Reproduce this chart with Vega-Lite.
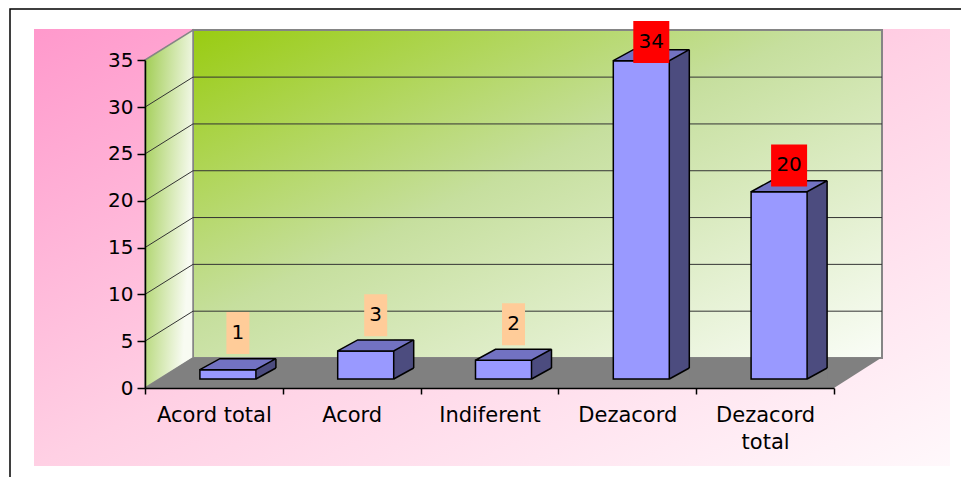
{
  "$schema": "https://vega.github.io/schema/vega-lite/v6.json",
  "width": 951,
  "height": 468,
  "autosize": {"type": "none"},
  "padding": {"left": 10, "top": 9, "right": 0, "bottom": 0},
  "background": "white",
  "config": {"view": {"stroke": null}, "font": "DejaVu Sans"},
  "datasets": {
    "survey": [
      {"raspuns": "Acord total", "valoare": 1},
      {"raspuns": "Acord", "valoare": 3},
      {"raspuns": "Indiferent", "valoare": 2},
      {"raspuns": "Dezacord", "valoare": 34},
      {"raspuns": "Dezacord total", "valoare": 20}
    ],
    "ticks": [{"v": 5}, {"v": 10}, {"v": 15}, {"v": 20}, {"v": 25}, {"v": 30}]
  },
  "layer": [
    {
      "data": {"values": [{}]},
      "encoding": {
        "x": {"datum": 0, "type": "quantitative", "scale": {"domain": [0, 5], "range": [135, 824], "nice": false, "zero": false}, "axis": null},
        "y": {"datum": 0, "type": "quantitative", "scale": {"domain": [0, 35], "range": [379, 51.3], "nice": false, "zero": false}, "axis": null}
      },
      "layer": [
        {"mark": {"type": "point", "shape": "M-111,-359L805,-359L805,78L-111,78Z", "size": 4, "filled": true, "opacity": 1, "fill": {"gradient": "linear", "x1": 0, "y1": 0, "x2": 1, "y2": 1, "stops": [{"offset": 0, "color": "#FF99CC"}, {"offset": 0.5, "color": "#FFD0E4"}, {"offset": 1, "color": "#FFF8FB"}]}}},
        {"mark": {"type": "point", "shape": "M-135,89L-135,-379L816,-379", "size": 4, "filled": false, "opacity": 1, "stroke": "#000000", "strokeWidth": 1.5}},
        {"mark": {"type": "point", "shape": "M48,-30L737,-30L737,-358L48,-358Z", "size": 4, "filled": true, "opacity": 1, "stroke": "#858585", "strokeWidth": 2, "fill": {"gradient": "linear", "x1": 0, "y1": 0, "x2": 1, "y2": 1, "stops": [{"offset": 0, "color": "#99CC11"}, {"offset": 0.45, "color": "#C6DF9E"}, {"offset": 1, "color": "#FAFDF7"}]}}},
        {"mark": {"type": "point", "shape": "M0,0L0,-328L48,-358L48,-30Z", "size": 4, "filled": true, "opacity": 1, "stroke": "#858585", "strokeWidth": 1.5, "fill": {"gradient": "linear", "x1": 0, "y1": 0, "x2": 1, "y2": 0.4, "stops": [{"offset": 0, "color": "#9FCC50"}, {"offset": 1, "color": "#F8FBF2"}]}}},
        {"mark": {"type": "point", "shape": "M0,0L689,0L736,-30L47,-30Z", "size": 4, "filled": true, "opacity": 1, "fill": "#808080"}}
      ]
    },
    {
      "data": {"name": "ticks"},
      "layer": [
        {
          "mark": {"type": "rule", "color": "#333333", "strokeWidth": 1, "xOffset": 48, "x2Offset": 48, "yOffset": -30},
          "encoding": {
            "x": {"datum": 0, "type": "quantitative", "scale": {"domain": [0, 5], "range": [135, 824], "nice": false, "zero": false}, "axis": null},
            "x2": {"datum": 5},
            "y": {"field": "v", "type": "quantitative", "scale": {"domain": [0, 35], "range": [379, 51.3], "nice": false, "zero": false}, "axis": null}
          }
        },
        {
          "mark": {"type": "rule", "color": "#333333", "strokeWidth": 1, "x2Offset": 48, "y2Offset": -30},
          "encoding": {
            "x": {"datum": 0, "type": "quantitative", "scale": {"domain": [0, 5], "range": [135, 824], "nice": false, "zero": false}, "axis": null},
            "x2": {"datum": 0},
            "y": {"field": "v", "type": "quantitative", "scale": {"domain": [0, 35], "range": [379, 51.3], "nice": false, "zero": false}, "axis": null},
            "y2": {"field": "v"}
          }
        }
      ]
    },
    {
      "data": {"name": "survey"},
      "encoding": {
        "x": {
          "field": "raspuns", "type": "nominal", "sort": null,
          "scale": {"domain": ["Acord total", "Acord", "Indiferent", "Dezacord", "Dezacord total"], "range": [135, 824], "paddingInner": 0, "paddingOuter": 0},
          "axis": {"orient": "bottom", "offset": -89, "title": null, "tickBand": "extent", "tickSize": 6, "tickWidth": 1.5, "tickColor": "#000000", "domainColor": "#000000", "domainWidth": 1.5, "labelPadding": 10, "labelFontSize": 21, "labelFont": "DejaVu Sans", "labelColor": "#000000", "labelAngle": 0, "labelBaseline": "top", "labelLineHeight": 27, "labelExpr": "datum.label == 'Dezacord total' ? ['Dezacord', 'total'] : datum.label", "zindex": 1}
        },
        "y": {
          "field": "valoare", "type": "quantitative",
          "scale": {"domain": [0, 35], "range": [379, 51.3], "nice": false, "zero": false},
          "axis": {"orient": "left", "offset": -135, "title": null, "grid": false, "values": [0, 5, 10, 15, 20, 25, 30, 35], "tickSize": 8, "tickWidth": 1.5, "tickColor": "#000000", "domainColor": "#000000", "domainWidth": 1.5, "labelPadding": 4, "labelFontSize": 20, "labelFont": "DejaVu Sans", "labelColor": "#000000", "zindex": 1}
        }
      },
      "layer": [
        {"mark": {"type": "bar", "width": 20, "xOffset": 52, "yOffset": -20, "y2Offset": -9, "fill": "#4C4C7F"}, "encoding": {"y2": {"datum": 0}}},
        {"mark": {"type": "bar", "width": 56, "xOffset": 14, "yOffset": -9, "y2Offset": -9, "fill": "#9999FF", "stroke": "#000000", "strokeWidth": 1.5}, "encoding": {"y2": {"datum": 0}}},
        {"mark": {"type": "point", "shape": "M0,0L56,0L76,-11L20,-11Z", "size": 4, "filled": true, "opacity": 1, "fill": "#7272C2", "stroke": "#000000", "strokeWidth": 1.5, "xOffset": -14, "yOffset": -9}},
        {"mark": {"type": "rule", "color": "#000000", "strokeWidth": 1.5, "xOffset": 62, "yOffset": -20, "y2Offset": -20}, "encoding": {"y2": {"datum": 0}}}
      ]
    },
    {
      "data": {"name": "survey"},
      "encoding": {
        "x": {"field": "raspuns", "type": "nominal", "sort": null, "scale": {"domain": ["Acord total", "Acord", "Indiferent", "Dezacord", "Dezacord total"], "range": [135, 824], "paddingInner": 0, "paddingOuter": 0}, "axis": null},
        "y": {"datum": 0, "type": "quantitative", "scale": {"domain": [0, 35], "range": [379, 51.3], "nice": false, "zero": false}, "axis": null}
      },
      "layer": [
        {"mark": {"type": "point", "shape": "M0,0L20,-11L20.6,-11L20.6,0.6L0,0.6Z", "size": 4, "filled": true, "opacity": 1, "fill": "#808080", "xOffset": 42, "yOffset": -9}},
        {"mark": {"type": "point", "shape": "M0,0L20,-11", "size": 4, "filled": false, "opacity": 1, "stroke": "#000000", "strokeWidth": 1.5, "xOffset": 42, "yOffset": -9}}
      ]
    },
    {
      "data": {"name": "survey"},
      "encoding": {
        "x": {"field": "raspuns", "type": "nominal", "sort": null, "scale": {"domain": ["Acord total", "Acord", "Indiferent", "Dezacord", "Dezacord total"], "range": [135, 824], "paddingInner": 0, "paddingOuter": 0}, "axis": null},
        "y": {"field": "valoare", "type": "quantitative", "scale": {"domain": [0, 35], "range": [332.8, 24.1], "nice": false, "zero": false}, "axis": null}
      },
      "layer": [
        {
          "mark": {"type": "point", "size": 4, "filled": true, "opacity": 1, "xOffset": 24},
          "encoding": {
            "shape": {"condition": {"test": "datum.valoare >= 10", "value": "M-18,-21L18,-21L18,21L-18,21Z"}, "value": "M-11.5,-21L11.5,-21L11.5,21L-11.5,21Z"},
            "fill": {"condition": {"test": "datum.valoare >= 10", "value": "#FF0000"}, "value": "#FFCC99"}
          }
        },
        {
          "mark": {"type": "text", "xOffset": 24, "fontSize": 20, "font": "DejaVu Sans", "color": "#000000", "align": "center", "baseline": "middle"},
          "encoding": {"text": {"field": "valoare", "type": "quantitative"}}
        }
      ]
    }
  ],
  "resolve": {"scale": {"x": "independent", "y": "independent"}}
}
